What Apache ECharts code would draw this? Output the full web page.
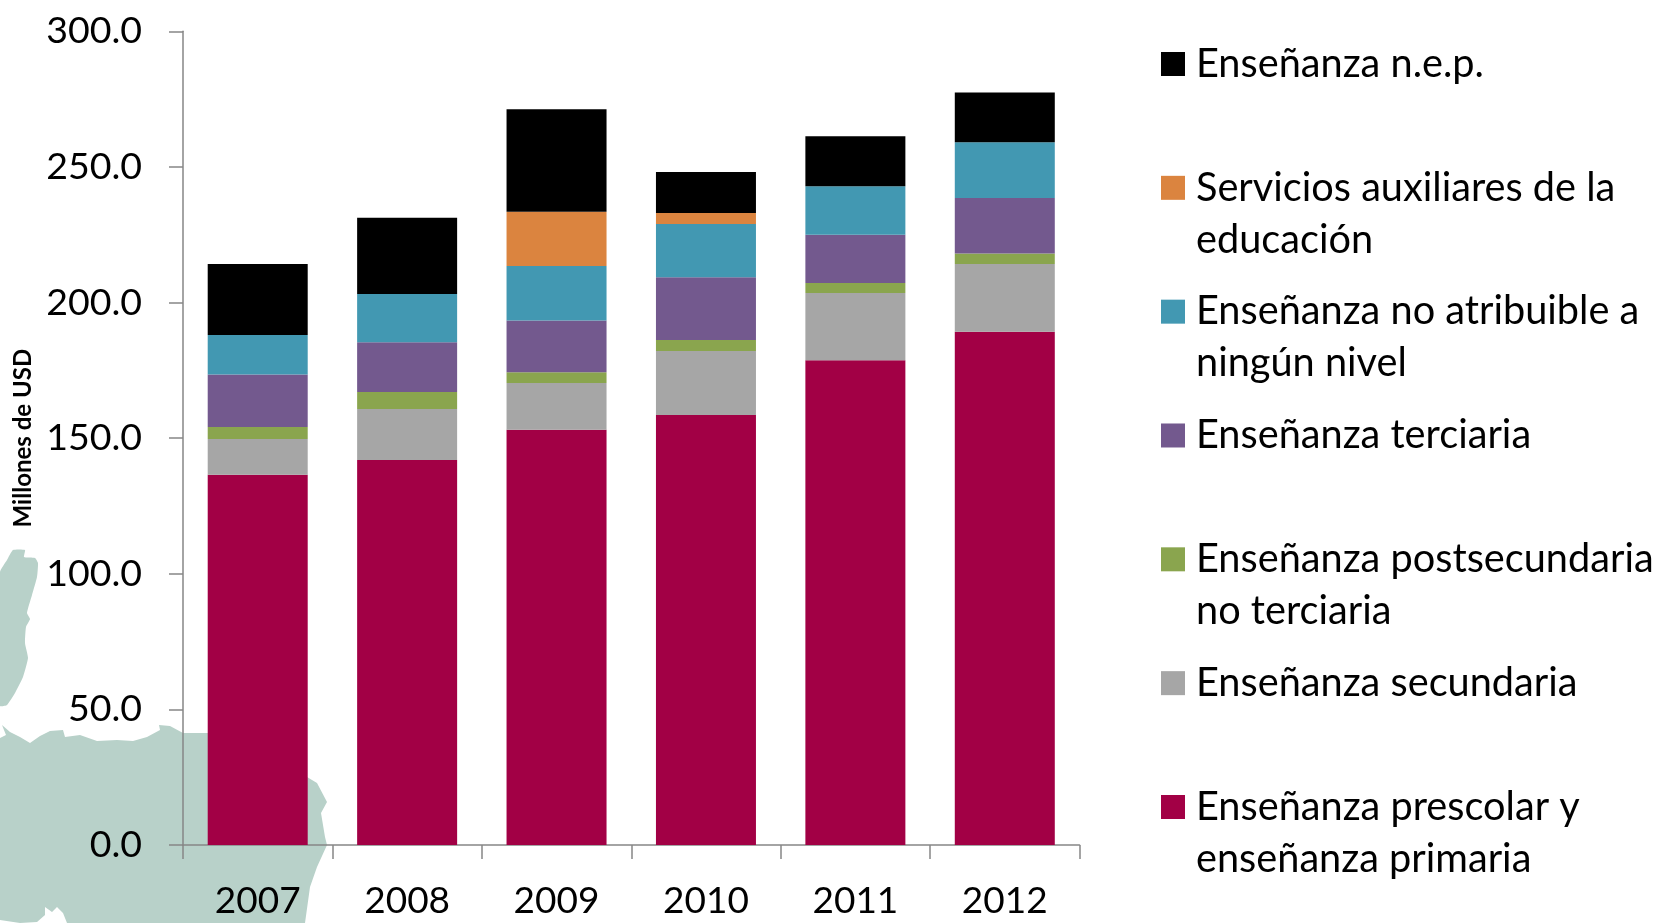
<!DOCTYPE html>
<html>
<head>
<meta charset="utf-8">
<title>Millones de USD</title>
<script src="https://cdn.jsdelivr.net/npm/echarts@6/dist/echarts.min.js"></script>
<style>html,body{margin:0;padding:0;background:#fff}#c{width:1661px;height:923px}</style>
</head>
<body>
<div id="c"></div>
<script>
const years = ['2007','2008','2009','2010','2011','2012'];
const primaria     = [136.5,141.9,153.1,158.5,178.7,189.2];
const secundaria   = [13.2,18.8,17.2,23.6,24.8,25.0];
const postsec      = [4.4,6.3,4.0,4.1,3.7,3.9];
const terciaria    = [19.4,18.3,19.1,23.1,17.8,20.4];
const noAtribuible = [14.5,17.8,20.1,19.6,17.9,20.6];
const auxiliares   = [0,0,20.0,4.1,0,0];
const nep          = [26.2,28.1,37.7,15.1,18.4,18.3];

const seriesDefs = [
  ['Enseñanza prescolar y enseñanza primaria', primaria, '#A20045'],
  ['Enseñanza secundaria', secundaria, '#A6A6A6'],
  ['Enseñanza postsecundaria no terciaria', postsec, '#8AA54E'],
  ['Enseñanza terciaria', terciaria, '#73598E'],
  ['Enseñanza no atribuible a ningún nivel', noAtribuible, '#4298B2'],
  ['Servicios auxiliares de la educación', auxiliares, '#DB843F'],
  ['Enseñanza n.e.p.', nep, '#000000']
];
const legendOrder = [
  ['Enseñanza n.e.p.'],
  ['Servicios auxiliares de la','educación'],
  ['Enseñanza no atribuible a','ningún nivel'],
  ['Enseñanza terciaria'],
  ['Enseñanza postsecundaria','no terciaria'],
  ['Enseñanza secundaria'],
  ['Enseñanza prescolar y','enseñanza primaria']
];

// decorative backdrop: pale map silhouette behind the lower-left of the chart
const islandOutline = [[0,572],[7,560],[13,550],[25,550],[24,557],[35,558],[38,563],[37,577],[32,595],[27,613],[30,619],[26,627],[25,643],[28,658],[23,677],[15,693],[7,705],[0,706]];
const mainlandOutline = [[0,738],[6,735],[2,725],[10,732],[20,737],[30,743],[40,736],[50,731],[63,730],[65,737],[80,735],[97,741],[117,740],[133,741],[147,737],[160,730],[159,725],[170,726],[183,733],[207,733],[300,733],[307,777],[317,783],[327,802],[321,813],[325,837],[327,845],[317,867],[310,887],[305,923],[67,923],[63,913],[57,907],[52,912],[45,907],[45,915],[37,922],[20,923],[0,920]];

const FONT = 'Lato';
const chart = echarts.init(document.getElementById('c'), null, {renderer:'canvas'});

const legends = legendOrder.map((lines, i) => {
  const name = lines.join(' ');
  const cy = 64 + i * 123.83;
  return {
    show: true, orient: 'vertical', left: 1161,
    top: lines.length > 1 ? cy - 79 : cy - 27,
    padding: 0, itemWidth: 24, itemHeight: 24, icon: 'rect', selectedMode: false,
    data: [name],
    formatter: () => lines.length > 1 ? '\n' + lines.join('\n') : lines[0],
    textStyle: {fontFamily: FONT, fontSize: 39.7, color: '#000', lineHeight: 52, padding: [2,0,0,6]}
  };
});

chart.setOption({
  animation: false,
  backgroundColor: '#fff',
  textStyle: {fontFamily: FONT},
  grid: {left: 183, right: 581.5, top: 31.25, bottom: 78, containLabel: false, outerBoundsMode: 'none'},
  legend: legends,
  graphic: {elements: [
    {type:'polygon', z:-10, silent:true, shape:{points:islandOutline, smooth:0.15}, style:{fill:'#B8D1C9'}},
    {type:'polygon', z:-10, silent:true, shape:{points:mainlandOutline}, style:{fill:'#B8D1C9'}}
  ]},
  xAxis: {
    type:'category', data: years,
    axisLine:{lineStyle:{color:'#868686',width:1.5}},
    axisTick:{show:true,length:14,alignWithLabel:false,lineStyle:{color:'#868686',width:1.5}},
    axisLabel:{fontFamily:FONT,fontSize:37,color:'#000',margin:38}
  },
  yAxis: {
    type:'value', min:0, max:300, interval:50,
    name:'Millones de USD', nameLocation:'middle', nameGap:148, nameRotate:90,
    nameTextStyle:{fontFamily:FONT,fontWeight:'bold',fontSize:24,color:'#000'},
    splitLine:{show:false},
    axisLine:{show:true,lineStyle:{color:'#868686',width:1.5}},
    axisTick:{show:true,length:14,lineStyle:{color:'#868686',width:1.5}},
    axisLabel:{fontFamily:FONT,fontSize:37.5,color:'#000',margin:41,padding:[2,0,0,0],formatter:v=>v.toFixed(1)}
  },
  series: seriesDefs.map(([name,data,color]) => ({
    name, type:'bar', stack:'total', data, barWidth:100,
    itemStyle:{color}, emphasis:{disabled:true}
  }))
});
</script>
</body>
</html>
